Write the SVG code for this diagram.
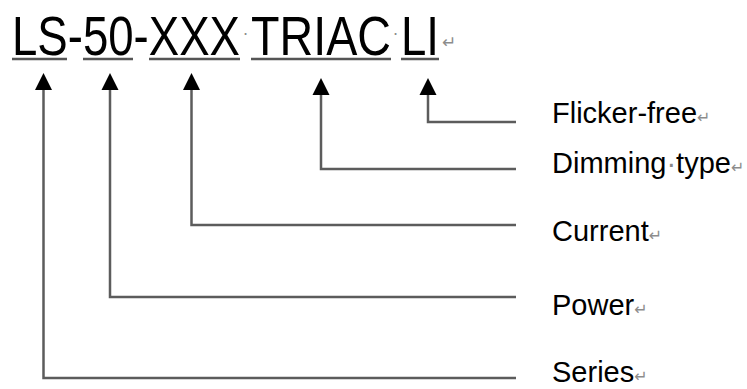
<svg xmlns="http://www.w3.org/2000/svg" width="747" height="389" viewBox="0 0 747 389">
<defs>
<style>
.title{font-family:"Liberation Sans",Arial,sans-serif;font-size:56px;fill:#000}
.lbl{font-family:"Liberation Sans",Arial,sans-serif;font-size:29px;fill:#000}
.mark{font-family:"DejaVu Sans","Liberation Sans",sans-serif;fill:#8c8c8c}
.ul{stroke:#555;stroke-width:2.5;fill:none}
.conn{stroke:#5c5c5c;stroke-width:2.5;fill:none}
.head{fill:#000}
</style>
</defs>
<rect width="747" height="389" fill="#fff"/>
<g id="code">
<text class="title" x="12" y="55" textLength="228" lengthAdjust="spacingAndGlyphs">LS-50-XXX</text>
<text class="mark" x="243" y="40" font-size="16">·</text>
<text class="title" x="251" y="55" textLength="140" lengthAdjust="spacingAndGlyphs">TRIAC</text>
<text class="mark" x="393" y="40" font-size="16">·</text>
<text class="title" x="401" y="55" textLength="38" lengthAdjust="spacingAndGlyphs">LI</text>
<text class="mark" x="442" y="48" font-size="17">↵</text>
<line class="ul" x1="12" y1="59" x2="67" y2="59"/>
<line class="ul" x1="83" y1="59" x2="133" y2="59"/>
<line class="ul" x1="149" y1="59" x2="240" y2="59"/>
<line class="ul" x1="251" y1="59" x2="391" y2="59"/>
<line class="ul" x1="401" y1="59" x2="439" y2="59"/>
</g>
<g id="connectors">
<polyline class="conn" points="43.5,88 43.5,378 516,378"/>
<polygon class="head" points="43.5,73 35,90 52,90"/>
<polyline class="conn" points="110,88 110,297 516,297"/>
<polygon class="head" points="110,73 101.5,90 118.5,90"/>
<polyline class="conn" points="191.5,88 191.5,225 516,225"/>
<polygon class="head" points="191.5,73 183,90 200,90"/>
<polyline class="conn" points="321,92 321,169 516,169"/>
<polygon class="head" points="321,78 312.5,95 329.5,95"/>
<polyline class="conn" points="428,92 428,122 516,122"/>
<polygon class="head" points="428,78 419.5,95 436.5,95"/>
</g>
<g id="label-flicker">
<text class="lbl" x="552" y="123">Flicker-free<tspan class="mark" font-size="16">↵</tspan></text>
</g>
<g id="label-dimming">
<text class="lbl" x="552" y="173">Dimming<tspan fill="#888">·</tspan>type<tspan class="mark" font-size="16">↵</tspan></text>
</g>
<g id="label-current">
<text class="lbl" x="552" y="241">Current<tspan class="mark" font-size="16">↵</tspan></text>
</g>
<g id="label-power">
<text class="lbl" x="552" y="315">Power<tspan class="mark" font-size="16">↵</tspan></text>
</g>
<g id="label-series">
<text class="lbl" x="552" y="382">Series<tspan class="mark" font-size="16">↵</tspan></text>
</g>
</svg>
